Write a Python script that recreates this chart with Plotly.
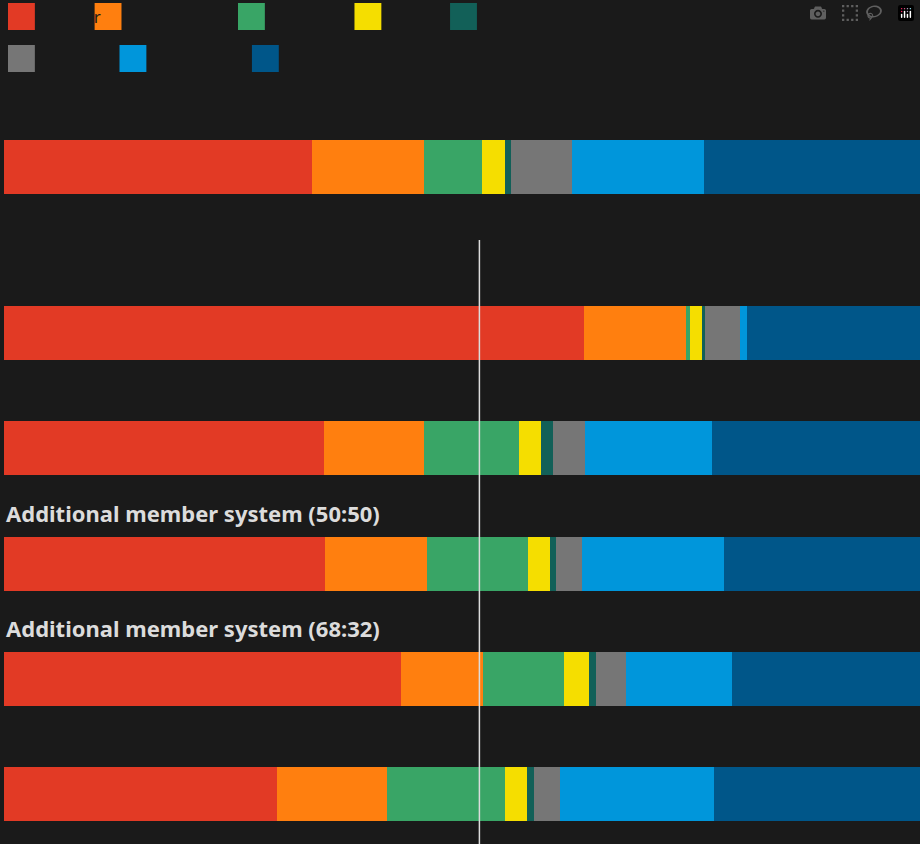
import plotly.graph_objects as go

parties = ["Labour", "Lib Dem", "Green", "SNP", "Plaid", "Other", "Reform UK", "Conservative"]
colors = ["#e23a25", "#ff7f0f", "#39a566", "#f5de00", "#126058", "#767676", "#0096db", "#005689"]
systems = ["Actual vote share", "First past the post", "Proportional representation",
           "Additional member system (50:50)", "Additional member system (68:32)", "Single transferable vote"]
ypos = [167, 333, 448, 564, 679, 794]
shares = [
    [33.6, 12.3, 6.3, 2.5, 0.7, 6.6, 14.4, 23.6],
    [63.3, 11.1, 0.5, 1.3, 0.3, 3.8, 0.8, 18.9],
    [34.9, 10.9, 10.4, 2.4, 1.3, 3.5, 13.9, 22.7],
    [35.0, 11.2, 11.0, 2.4, 0.7, 2.8, 15.5, 21.4],
    [43.3, 9.0, 8.8, 2.8, 0.7, 3.3, 11.6, 20.5],
    [29.8, 12.0, 12.9, 2.4, 0.8, 2.8, 16.8, 22.5],
]
titled = {3: "Additional member system (50:50)", 4: "Additional member system (68:32)"}
majority = 51.9
bg = "#1a1a1a"

# legend key placement (pixels): x left edges, row tops
key_x = [4, 91, 235, 352, 448, 4, 116, 249]
key_y = [3, 3, 3, 3, 3, 45, 45, 45]
W, H = 920, 844

fig = go.Figure()
for i, p in enumerate(parties):
    fig.add_trace(go.Bar(
        y=ypos, x=[row[i] for row in shares], name=p, orientation="h",
        width=54, marker=dict(color=colors[i], line=dict(width=0)),
        hovertext=systems, hoverinfo="x+name+text", showlegend=False))
    x0 = key_x[i] / W
    fig.add_shape(type="rect", xref="paper", yref="paper",
                  x0=x0, x1=(key_x[i] + 27) / W,
                  y0=1 - (key_y[i] + 27) / H, y1=1 - key_y[i] / H,
                  fillcolor=colors[i], line=dict(width=0))
    fig.add_annotation(xref="paper", yref="paper", x=(key_x[i] + 34) / W,
                       y=1 - (key_y[i] + 13.5) / H, text=p, showarrow=False,
                       xanchor="left", yanchor="middle",
                       font=dict(size=17, color=bg, family="Noto Sans"))

fig.add_shape(type="line", x0=majority, x1=majority, y0=240, y1=844,
              xref="x", yref="y", line=dict(color="#dcdcdc", width=1.5), layer="above")
for k, t in titled.items():
    fig.add_annotation(x=0, y=ypos[k] - 51, xref="x", yref="y", text="<b>" + t + "</b>",
                       showarrow=False, xanchor="left", yanchor="middle",
                       font=dict(size=22, color="#dcdcdc", family="Noto Sans"))

fig.update_layout(
    width=W, height=H, barmode="stack", paper_bgcolor=bg, plot_bgcolor=bg,
    margin=dict(l=4, r=0, t=0, b=0),
    xaxis=dict(range=[0, 100], visible=False, fixedrange=True),
    yaxis=dict(range=[844, 0], visible=False, fixedrange=True),
    showlegend=False,
)
fig.write_html("out.html")
with open("out.html", encoding="utf-8") as f:
    html = f.read()
html = html.replace("<body>", '<body style="margin:0;background:#1a1a1a;overflow:hidden">', 1)
with open("out.html", "w", encoding="utf-8") as f:
    f.write(html)
